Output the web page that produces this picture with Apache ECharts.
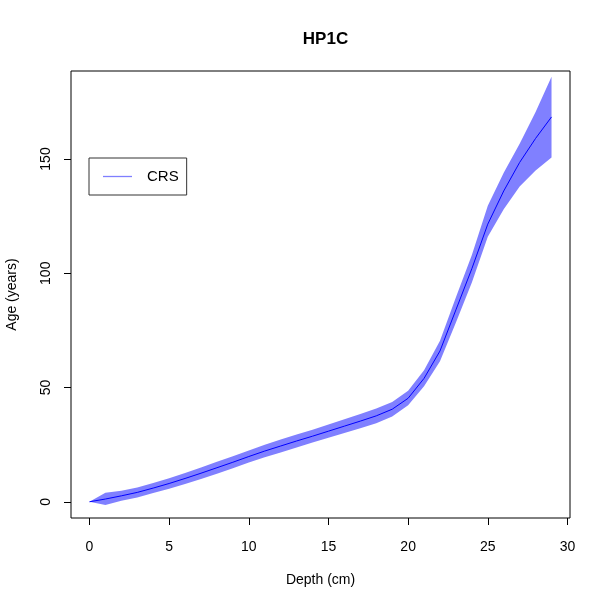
<!DOCTYPE html>
<html>
<head>
<meta charset="utf-8">
<script src="https://cdn.jsdelivr.net/npm/echarts@6/dist/echarts.min.js"></script>
<style>html,body{margin:0;padding:0;background:#fff;}#c{width:607px;height:607px;}</style>
</head>
<body>
<div id="c"></div>
<script>
// ---- data ----
const depth = [0,1,2,3,4,5,6,7,8,9,10,11,12,13,14,15,16,17,18,19,20,21,22,23,24,25,26,27,28,29];
const ageMean = [0,1.2,2.6,4.1,6.0,8.0,10.2,12.5,14.9,17.3,19.8,22.2,24.4,26.6,28.7,30.9,33.1,35.3,37.6,40.5,45.3,54,66,84,102,121.5,136,148.5,159,168.4];
const ageLower = [0,-1.4,0.4,1.9,3.8,5.7,7.8,10.0,12.3,14.7,17.2,19.5,21.6,23.8,25.9,28.0,30.1,32.2,34.4,37.3,42.2,50.5,61.5,78.5,96,116,128,138,145,150.6];
const ageUpper = [0,3.9,4.8,6.3,8.2,10.3,12.6,15.0,17.5,19.9,22.4,24.9,27.2,29.4,31.5,33.8,36.1,38.4,40.8,43.7,48.6,57.5,70.5,89.5,108,129.5,144,156.7,170.6,186];
const xTicks = [0,5,10,15,20,25,30];
const yTicks = [0,50,100,150];
const seriesName = 'CRS';
const titleText = 'HP1C';
const xName = 'Depth (cm)';
const yName = 'Age (years)';

const meanData = depth.map((d,i)=>[d, ageMean[i]]);
const font = 'Liberation Sans, Arial, Helvetica, sans-serif';

const chart = echarts.init(document.getElementById('c'), null, {renderer:'canvas'});
chart.setOption({
  animation:false,
  backgroundColor:'#ffffff',
  title:{
    text:titleText, left:320.5, top:26, textAlign:'center',
    textStyle:{fontFamily:font, fontSize:17, fontWeight:'bold', color:'#000'}
  },
  grid:{left:71, top:71, right:37, bottom:89, show:true, borderColor:'#000', borderWidth:1,
        backgroundColor:'transparent', containLabel:false, outerBoundsMode:'none'},
  legend:{
    data:[{name:seriesName, icon:'rect'}],
    left:89, top:158, orient:'vertical',
    itemWidth:29, itemHeight:1.3, itemGap:0,
    padding:[11,8,11,14],
    borderColor:'#333', borderWidth:1,
    itemStyle:{color:'#7f7fff'},
    textStyle:{fontFamily:font, fontSize:15, color:'#000', padding:[0,0,0,10]}
  },
  xAxis:{
    type:'value', min:-1.16, max:30.16,
    name:xName, nameLocation:'middle', nameGap:55,
    nameTextStyle:{fontFamily:font, fontSize:14, color:'#000'},
    axisLine:{show:false, onZero:false},
    splitLine:{show:false},
    axisTick:{show:true, length:7, customValues:xTicks, lineStyle:{color:'#000'}},
    axisLabel:{customValues:xTicks, margin:22, fontFamily:font, fontSize:14, color:'#000'}
  },
  yAxis:{
    type:'value', min:-7.1, max:188.5,
    name:yName, nameLocation:'middle', nameGap:52,
    nameTextStyle:{fontFamily:font, fontSize:14, color:'#000'},
    axisLine:{show:false, onZero:false},
    splitLine:{show:false},
    axisTick:{show:true, length:7, customValues:yTicks, lineStyle:{color:'#000'}},
    axisLabel:{customValues:yTicks, rotate:90, margin:18, fontFamily:font, fontSize:14, color:'#000'}
  },
  series:[
    {
      type:'custom', name:'band', silent:true, z:1,
      data:[0],
      renderItem:function(params, api){
        const pts = [];
        for (let i=0;i<depth.length;i++) pts.push(api.coord([depth[i], ageUpper[i]]));
        for (let i=depth.length-1;i>=0;i--) pts.push(api.coord([depth[i], ageLower[i]]));
        return {type:'polygon', shape:{points:pts}, style:{fill:'#8080ff', stroke:null}};
      }
    },
    {
      type:'line', name:seriesName, data:meanData, z:2,
      symbol:'none', showSymbol:false,
      lineStyle:{color:'#0000ff', width:1},
      itemStyle:{color:'#0000ff'}
    }
  ]
});
</script>
</body>
</html>
